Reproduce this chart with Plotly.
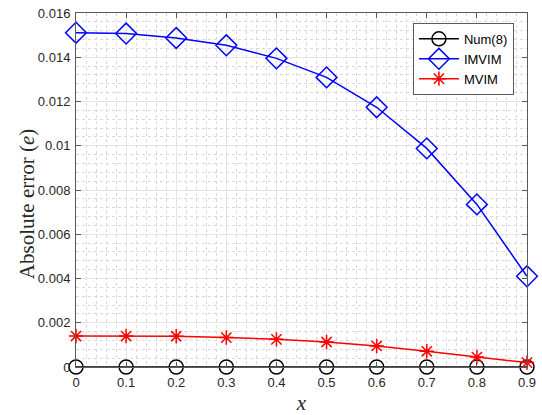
import plotly.graph_objects as go

# Sample points and absolute error of each method
x_vals = [0, 0.1, 0.2, 0.3, 0.4, 0.5, 0.6, 0.7, 0.8, 0.9]
num8_err = [0, 0, 0, 0, 0, 0, 0, 0, 0, 0]
imvim_err = [0.01511, 0.01507, 0.01487, 0.01454, 0.01395, 0.01309, 0.01174, 0.00988, 0.00735, 0.00410]
mvim_err = [0.00140, 0.00140, 0.00139, 0.00133, 0.00125, 0.00113, 0.00095, 0.00071, 0.00045, 0.00020]

fig = go.Figure()
fig.add_trace(go.Scatter(
    x=x_vals, y=num8_err, name="Num(8)", mode="lines+markers", cliponaxis=False,
    line=dict(color="black", width=1.5),
    marker=dict(symbol="circle-open", size=14, color="black", line=dict(width=1.5)),
))
fig.add_trace(go.Scatter(
    x=x_vals, y=imvim_err, name="IMVIM", mode="lines+markers", cliponaxis=False,
    line=dict(color="#0000ff", width=1.5),
    marker=dict(symbol="diamond-open", size=16, color="#0000ff", line=dict(width=1.5)),
))
fig.add_trace(go.Scatter(
    x=x_vals, y=mvim_err, name="MVIM", mode="lines+markers", cliponaxis=False,
    line=dict(color="#ff0000", width=1.5),
    marker=dict(symbol="asterisk-open", size=12, color="#ff0000", line=dict(width=1.5, color="#ff0000")),
))

axis_common = dict(
    showline=True, linecolor="#5a5a5a", linewidth=1, mirror="ticks",
    ticks="inside", ticklen=5, tickcolor="#5a5a5a",
    showgrid=True, gridcolor="#e3e3e3", gridwidth=1,
    zeroline=False, automargin=False,
    tickfont=dict(family="Liberation Sans, Arial", size=13, color="#262626"),
)

title_font = dict(family="Liberation Serif, Times New Roman", size=21, color="#262626")

fig.update_xaxes(
    range=[0, 0.9], dtick=0.1, tick0=0, ticklabelstandoff=3,
    minor=dict(dtick=0.02, showgrid=True, gridcolor="#d9d9d9", griddash="dot", ticks=""),
    title=dict(text="<i>x</i>", font=title_font, standoff=6),
    **axis_common,
)
fig.update_yaxes(
    range=[0, 0.016], dtick=0.002, tick0=0, ticklabelstandoff=2,
    minor=dict(dtick=0.0004, showgrid=True, gridcolor="#d9d9d9", griddash="dot", ticks=""),
    **axis_common,
)

# y-axis title placed as a rotated annotation
fig.add_annotation(
    text="Absolute error (<i>e</i>)", textangle=-90,
    xref="paper", yref="paper", x=-49 / 451, y=0.46,
    xanchor="center", yanchor="middle", showarrow=False,
    font=title_font,
)

fig.update_layout(
    width=542, height=415,
    margin=dict(l=76, r=15, t=13, b=48),
    paper_bgcolor="white", plot_bgcolor="white",
    showlegend=True,
    legend=dict(
        x=0.971, y=0.972, xanchor="right", yanchor="top",
        bgcolor="white", bordercolor="#5a5a5a", borderwidth=1,
        font=dict(family="Liberation Sans, Arial", size=13, color="black"),
        tracegroupgap=0, itemwidth=40,
    ),
)

fig.write_html("out.html")
